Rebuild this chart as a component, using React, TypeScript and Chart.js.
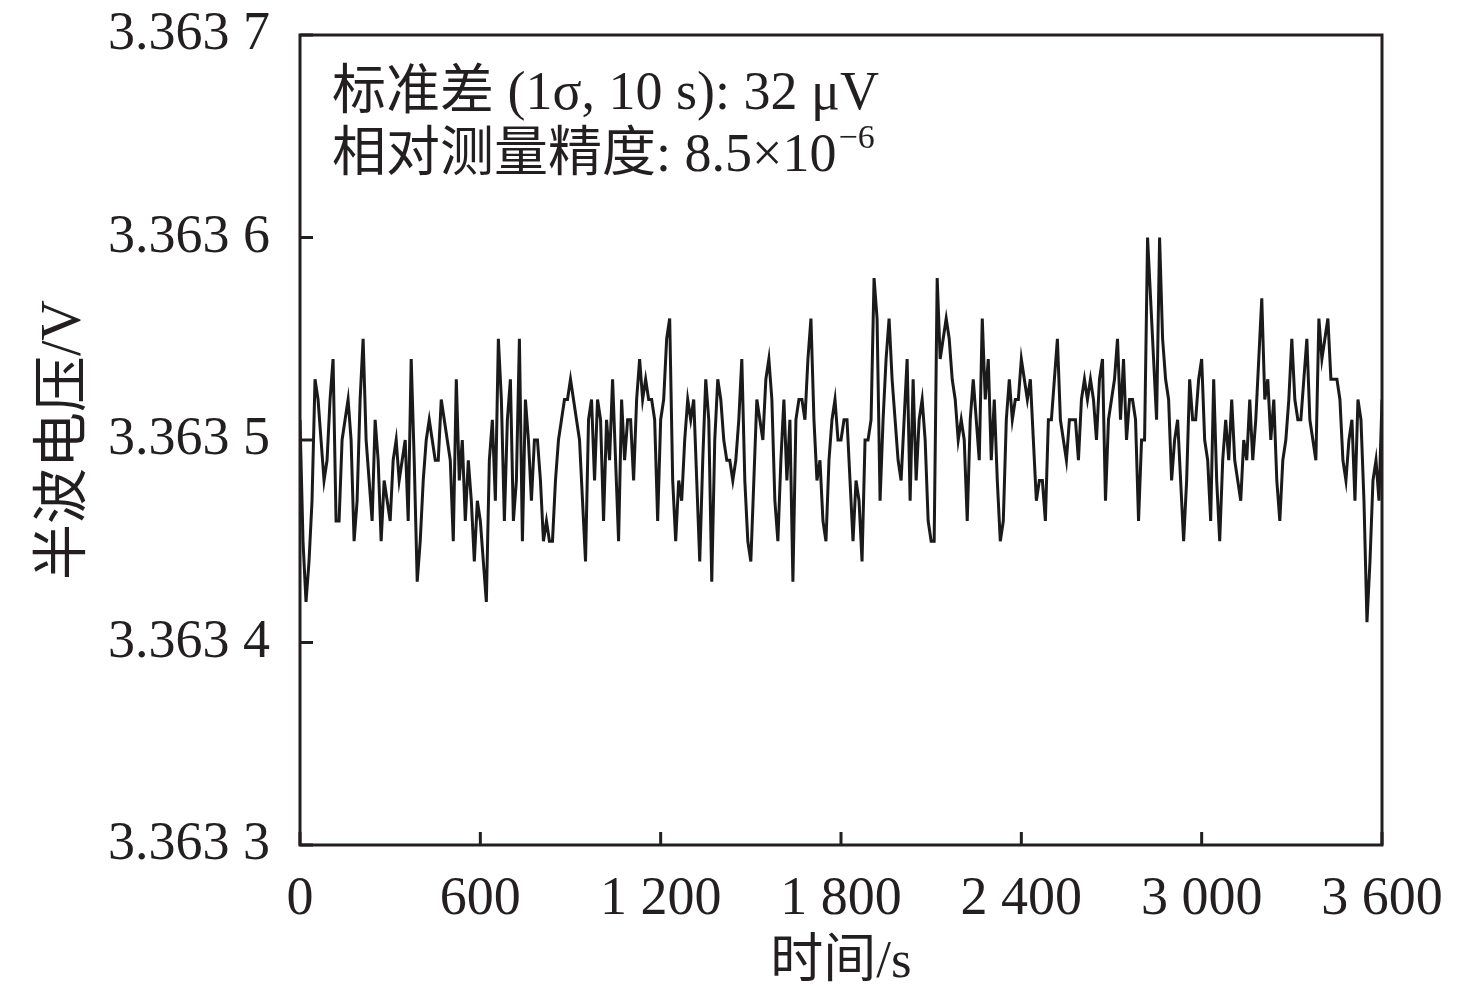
import { useEffect, useRef } from "react";
import { Chart, registerables } from "chart.js";

Chart.register(...registerables);

// ---- data ----
const sampleStepSeconds = 10;
const xTicks = [0, 600, 1200, 1800, 2400, 3000, 3600];
const xTickLabels = ["0", "600", "1 200", "1 800", "2 400", "3 000", "3 600"];
const yTicks = [3.3633, 3.3634, 3.3635, 3.3636, 3.3637];
const yTickLabels = ["3.363 3", "3.363 4", "3.363 5", "3.363 6", "3.363 7"];

// half-wave voltage (V), one value every 10 s
const voltage0To560 = [
  3.36351, 3.36345, 3.36342, 3.36344, 3.36347, 3.36353, 3.36352, 3.3635, 3.36348, 3.36349,
  3.36352, 3.36354, 3.36346, 3.36346, 3.3635, 3.36351, 3.36352, 3.3635, 3.36345, 3.36347,
  3.36352, 3.36355, 3.3635, 3.36348, 3.36346, 3.36351, 3.36349, 3.36345, 3.36348, 3.36347,
  3.36346, 3.36349, 3.3635, 3.36348, 3.36349, 3.3635, 3.36346, 3.36354, 3.36349, 3.36343,
  3.36345, 3.36348, 3.3635, 3.36351, 3.3635, 3.36349, 3.36349, 3.36352, 3.36351, 3.3635,
  3.36349, 3.36345, 3.36353, 3.36348, 3.3635, 3.36346, 3.36349,
];
const voltage570To1160 = [
  3.36347, 3.36344, 3.36347, 3.36346, 3.36344, 3.36342, 3.36349, 3.36351, 3.36347, 3.36355,
  3.36352, 3.36346, 3.36351, 3.36353, 3.36346, 3.36348, 3.36355, 3.36345, 3.36352, 3.3635,
  3.36347, 3.3635, 3.3635, 3.36348, 3.36345, 3.36346, 3.36345, 3.36345, 3.36348, 3.3635,
  3.36351, 3.36352, 3.36352, 3.36353, 3.36352, 3.36351, 3.3635, 3.36347, 3.36344, 3.36351,
  3.36352, 3.36348, 3.36352, 3.36351, 3.36346, 3.36351, 3.36349, 3.36353, 3.36349, 3.36345,
  3.36352, 3.36349, 3.36351, 3.36351, 3.36348, 3.36352, 3.36354, 3.36352, 3.36353, 3.36352,
];
const voltage1170To1760 = [
  3.36352, 3.36351, 3.36346, 3.36351, 3.36352, 3.36355, 3.36356, 3.36348, 3.36345, 3.36348,
  3.36347, 3.3635, 3.36352, 3.36351, 3.36352, 3.36348, 3.36344, 3.36349, 3.36353, 3.36351,
  3.36343, 3.3635, 3.36353, 3.36352, 3.3635, 3.36349, 3.36349, 3.36348, 3.36349, 3.36351,
  3.36354, 3.36348, 3.36345, 3.36344, 3.36348, 3.36352, 3.36351, 3.3635, 3.36353, 3.36354,
  3.36352, 3.36347, 3.36345, 3.36349, 3.36352, 3.36348, 3.36351, 3.36343, 3.36351, 3.36352,
  3.36352, 3.36351, 3.36354, 3.36356, 3.36351, 3.36348, 3.36349, 3.36346, 3.36345, 3.36349,
];
const voltage1770To2360 = [
  3.36351, 3.36352, 3.3635, 3.3635, 3.36351, 3.36351, 3.36348, 3.36345, 3.36348, 3.36347,
  3.36344, 3.3635, 3.3635, 3.36351, 3.36358, 3.36356, 3.36347, 3.36351, 3.36354, 3.36356,
  3.36353, 3.36351, 3.36349, 3.36348, 3.36351, 3.36354, 3.36347, 3.36353, 3.36348, 3.36351,
  3.36352, 3.3635, 3.36346, 3.36345, 3.36345, 3.36358, 3.36354, 3.36355, 3.36356, 3.36355,
  3.36353, 3.36352, 3.3635, 3.36351, 3.3635, 3.36346, 3.36351, 3.36353, 3.36351, 3.36349,
  3.36356, 3.36352, 3.36354, 3.36349, 3.36352, 3.36348, 3.36345, 3.36346, 3.36351, 3.36353,
];
const voltage2370To2960 = [
  3.36351, 3.36352, 3.36352, 3.36354, 3.36353, 3.36352, 3.36353, 3.3635, 3.36347, 3.36348,
  3.36348, 3.36346, 3.36351, 3.36351, 3.36353, 3.36355, 3.36351, 3.3635, 3.36349, 3.36351,
  3.36351, 3.36351, 3.36349, 3.36352, 3.36353, 3.36352, 3.36353, 3.36352, 3.3635, 3.36353,
  3.36354, 3.36347, 3.36351, 3.36352, 3.36353, 3.36355, 3.36351, 3.36354, 3.3635, 3.36352,
  3.36352, 3.36351, 3.36346, 3.3635, 3.3635, 3.3636, 3.36357, 3.36354, 3.36351, 3.3636,
  3.36355, 3.36353, 3.36352, 3.36348, 3.3635, 3.36351, 3.36348, 3.36345, 3.36348, 3.36353,
];
const voltage2970To3600 = [
  3.36351, 3.36351, 3.36353, 3.36354, 3.3635, 3.36349, 3.36346, 3.36353, 3.36348, 3.36345,
  3.36349, 3.36351, 3.36349, 3.36352, 3.36349, 3.36348, 3.36347, 3.3635, 3.36349, 3.36352,
  3.36349, 3.36351, 3.36354, 3.36357, 3.36352, 3.36353, 3.3635, 3.36352, 3.36348, 3.36346,
  3.36349, 3.3635, 3.36352, 3.36355, 3.36352, 3.36351, 3.36351, 3.36353, 3.36355, 3.36351,
  3.3635, 3.36349, 3.36356, 3.36354, 3.36355, 3.36356, 3.36353, 3.36353, 3.36353, 3.36352,
  3.36349, 3.36348, 3.3635, 3.36351, 3.36347, 3.36352, 3.36351, 3.36347, 3.36341, 3.36344,
  3.36348, 3.36349, 3.36347, 3.36352,
];

const xTitle = "时间/s";
const yTitle = "半波电压/V";
const noteLine1 = "标准差 (1σ, 10 s): 32 μV";
const noteLine2Base = "相对测量精度: 8.5×10";
const noteLine2Exp = "−6";

const INK = "#231f20";
const FONT_FAMILY = '"Liberation Serif", "Times New Roman", "Noto Sans CJK SC", serif';

const labelFor = (v: number, ticks: number[], labels: string[]) => {
  const i = ticks.findIndex((t) => Math.abs(t - v) < 1e-9);
  return i >= 0 ? labels[i] : "";
};

const framePlugin = {
  id: "frameAndNotes",
  afterDatasetsDraw(chart: any) {
    const { ctx, chartArea, scales } = chart;
    const { left, right, top, bottom } = chartArea;
    ctx.save();
    ctx.strokeStyle = INK;
    ctx.lineWidth = 3;
    ctx.strokeRect(left, top, right - left, bottom - top);
    ctx.beginPath();
    for (const t of xTicks) {
      const x = scales.x.getPixelForValue(t);
      ctx.moveTo(x, bottom);
      ctx.lineTo(x, bottom - 13);
    }
    for (const v of yTicks) {
      const y = scales.y.getPixelForValue(v);
      ctx.moveTo(left, y);
      ctx.lineTo(left + 13, y);
    }
    ctx.stroke();

    ctx.fillStyle = INK;
    ctx.textBaseline = "middle";
    ctx.textAlign = "left";
    const tx = left + 32;
    ctx.font = `54px ${FONT_FAMILY}`;
    ctx.fillText(noteLine1, tx, top + 60);
    ctx.fillText(noteLine2Base, tx, top + 122);
    const w = ctx.measureText(noteLine2Base).width;
    ctx.font = `34px ${FONT_FAMILY}`;
    ctx.fillText(noteLine2Exp, tx + w + 2, top + 104);
    ctx.restore();
  },
};

export default function App() {
  const canvasRef = useRef<HTMLCanvasElement | null>(null);

  useEffect(() => {
    document.body.style.margin = "0";
    const canvas = canvasRef.current;
    if (!canvas) return;
    const all = [
      ...voltage0To560,
      ...voltage570To1160,
      ...voltage1170To1760,
      ...voltage1770To2360,
      ...voltage2370To2960,
      ...voltage2970To3600,
    ];
    const points = all.map((v, i) => ({ x: i * sampleStepSeconds, y: v }));

    const chart = new Chart(canvas, {
      type: "line",
      data: {
        datasets: [
          {
            data: points,
            borderColor: "#1a1a1a",
            borderWidth: 3,
            pointRadius: 0,
            tension: 0,
            fill: false,
          },
        ],
      },
      options: {
        animation: false,
        responsive: true,
        maintainAspectRatio: false,
        layout: { padding: { top: 35, right: 94, bottom: 0, left: 0 } },
        plugins: { legend: { display: false }, tooltip: { enabled: false } },
        scales: {
          x: {
            type: "linear",
            min: 0,
            max: 3600,
            afterBuildTicks: (s: any) => {
              s.ticks = xTicks.map((v) => ({ value: v }));
            },
            afterFit: (s: any) => {
              s.height = 157;
              s.paddingLeft = 0;
              s.paddingRight = 0;
            },
            grid: { display: false, drawTicks: false },
            border: { display: false },
            ticks: {
              padding: 22,
              maxRotation: 0,
              autoSkip: false,
              color: INK,
              font: { family: FONT_FAMILY, size: 54 },
              callback: (v: any) => labelFor(Number(v), xTicks, xTickLabels),
            },
            title: {
              display: true,
              text: xTitle,
              color: INK,
              font: { family: FONT_FAMILY, size: 53 },
              padding: { top: 0, bottom: 7 },
            },
          },
          y: {
            type: "linear",
            min: 3.3633,
            max: 3.3637,
            afterBuildTicks: (s: any) => {
              s.ticks = yTicks.map((v) => ({ value: v }));
            },
            afterFit: (s: any) => {
              s.width = 300;
              s.paddingTop = 0;
              s.paddingBottom = 0;
            },
            grid: { display: false, drawTicks: false },
            border: { display: false },
            ticks: {
              padding: 30,
              autoSkip: false,
              color: INK,
              font: { family: FONT_FAMILY, size: 54 },
              callback: (v: any) => labelFor(Number(v), yTicks, yTickLabels),
            },
            title: {
              display: true,
              text: yTitle,
              color: INK,
              font: { family: FONT_FAMILY, size: 56 },
              padding: { top: 32, bottom: 0 },
            },
          },
        },
      },
      plugins: [framePlugin],
    });
    return () => chart.destroy();
  }, []);

  return (
    <div
      style={{
        position: "fixed",
        left: 0,
        top: 0,
        width: 1476,
        height: 1002,
        background: "#fff",
      }}
    >
      <canvas ref={canvasRef} />
    </div>
  );
}
